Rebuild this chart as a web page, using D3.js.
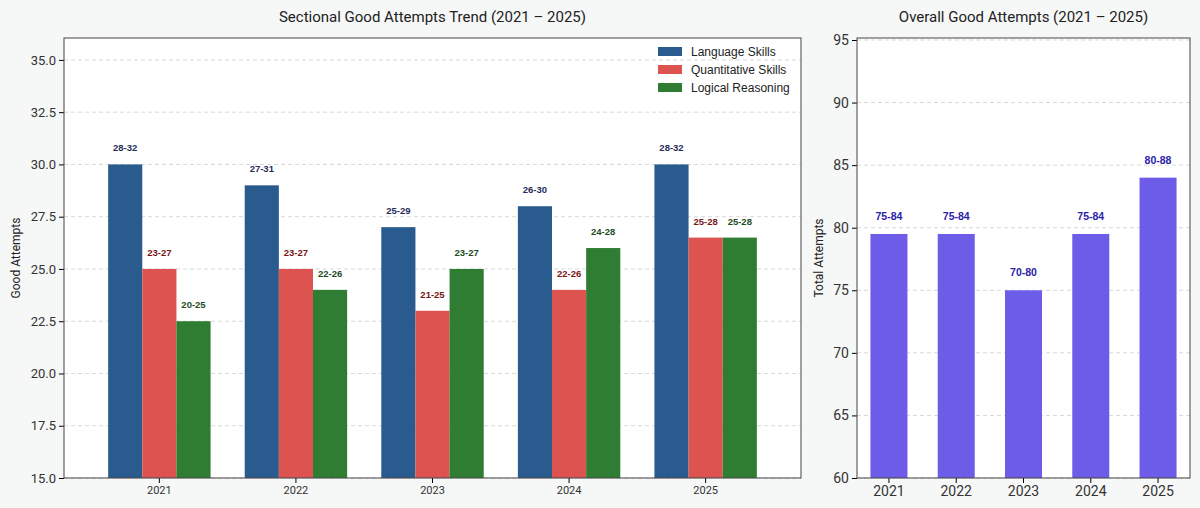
<!DOCTYPE html>
<html><head><meta charset="utf-8">
<script src="https://cdn.jsdelivr.net/npm/d3@7"></script>
<style>body{margin:0;background:#f6f7f7;font-family:Roboto,sans-serif}</style>
</head><body><svg id="c" width="1200" height="508"></svg>
<script>
const years = ["2021", "2022", "2023", "2024", "2025"];
const series = ["Language Skills", "Quantitative Skills", "Logical Reasoning"];
const colors = ["#2a5b8e", "#dc5350", "#2e7d32"];
const labelColors = ["#1f2d5a", "#7a1616", "#1d4d1d"];
const langVals = [30, 29, 27, 28, 30];
const quantVals = [25, 25, 23, 24, 26.5];
const logicVals = [22.5, 24, 25, 26, 26.5];
const langLabels = ["28-32", "27-31", "25-29", "26-30", "28-32"];
const quantLabels = ["23-27", "23-27", "21-25", "22-26", "25-28"];
const logicLabels = ["20-25", "22-26", "23-27", "24-28", "25-28"];
const leftTicks = [15, 17.5, 20, 22.5, 25, 27.5, 30, 32.5, 35];
const totalVals = [79.5, 79.5, 75, 79.5, 84];
const totalLabels = ["75-84", "75-84", "70-80", "75-84", "80-88"];
const rightTicks = [60, 65, 70, 75, 80, 85, 90, 95];

const svg = d3.select("#c");

// left panel
const L = {x0: 64, x1: 801, y0: 38, y1: 478};
svg.append("rect").attr("x", L.x0).attr("y", L.y0).attr("width", L.x1 - L.x0).attr("height", L.y1 - L.y0).attr("fill", "#fff");
const yL = d3.scaleLinear().domain([15, 36]).range([L.y1, L.y0 + 1]);
const xL = d3.scaleBand().domain(years).range([L.x0 + 10, L.x1 - 10]).paddingInner(0.25).paddingOuter(0.25);
const xs = d3.scaleBand().domain(series).range([0, xL.bandwidth()]);

svg.append("g").selectAll("line").data(leftTicks).join("line")
    .attr("x1", L.x0).attr("x2", L.x1).attr("y1", d => yL(d)).attr("y2", d => yL(d))
    .attr("stroke", "#d8d8d8").attr("stroke-dasharray", "4,3");

const sets = [[langVals, langLabels], [quantVals, quantLabels], [logicVals, logicLabels]];
sets.forEach(([vals, labs], si) => {
    const g = svg.append("g");
    g.selectAll("rect").data(years).join("rect")
        .attr("x", d => xL(d) + xs(series[si]))
        .attr("y", (d, i) => yL(vals[i]))
        .attr("width", xs.bandwidth())
        .attr("height", (d, i) => yL(15) - yL(vals[i]))
        .attr("fill", colors[si]);
    g.selectAll("text").data(years).join("text")
        .attr("x", d => xL(d) + xs(series[si]) + xs.bandwidth() / 2)
        .attr("y", (d, i) => yL(vals[i]) - 13)
        .attr("text-anchor", "middle")
        .attr("font-family", "Liberation Sans, Arial, sans-serif")
        .attr("font-weight", "bold").attr("font-size", 9.5)
        .attr("fill", labelColors[si])
        .text((d, i) => labs[i]);
});

svg.append("g").attr("transform", `translate(${L.x0},0)`)
    .call(d3.axisLeft(yL).tickValues(leftTicks).tickFormat(d3.format(".1f")).tickSize(5))
    .call(g => g.select(".domain").remove())
    .call(g => g.selectAll("text").attr("font-size", 13).attr("fill", "#333").attr("font-family", "Roboto, sans-serif"));
svg.append("g").attr("transform", `translate(0,${L.y1})`)
    .call(d3.axisBottom(xL).tickSize(5))
    .call(g => g.select(".domain").remove())
    .call(g => g.selectAll("text").attr("font-size", 11).attr("fill", "#333").attr("font-family", "Roboto, sans-serif"));
svg.append("rect").attr("x", L.x0).attr("y", L.y0).attr("width", L.x1 - L.x0).attr("height", L.y1 - L.y0)
    .attr("fill", "none").attr("stroke", "#444").attr("stroke-width", 1);
svg.append("text").attr("x", (L.x0 + L.x1) / 2).attr("y", 22).attr("text-anchor", "middle")
    .attr("font-size", 15).attr("fill", "#222").text("Sectional Good Attempts Trend (2021 – 2025)");
svg.append("text").attr("transform", `translate(20,${(L.y0 + L.y1) / 2}) rotate(-90)`)
    .attr("text-anchor", "middle").attr("font-size", 12).attr("fill", "#222").text("Good Attempts");

const leg = svg.append("g").attr("transform", "translate(658,47)");
const li = leg.selectAll("g").data(series).join("g").attr("transform", (d, i) => `translate(0,${i * 18})`);
li.append("rect").attr("width", 24).attr("height", 9).attr("fill", (d, i) => colors[i]);
li.append("text").attr("x", 33).attr("y", 9).attr("font-size", 12).attr("fill", "#222")
    .attr("font-family", "Liberation Sans, Arial, sans-serif").text(d => d);

// right panel
const R = {x0: 857, x1: 1190, y0: 38, y1: 478};
svg.append("rect").attr("x", R.x0).attr("y", R.y0).attr("width", R.x1 - R.x0).attr("height", R.y1 - R.y0).attr("fill", "#fff");
const yR = d3.scaleLinear().domain([60, 95]).range([R.y1, R.y0 + 2]);
const xR = d3.scaleBand().domain(years).range([R.x0, R.x1]).paddingInner(0.45).paddingOuter(0.2);
svg.append("g").selectAll("line").data(rightTicks).join("line")
    .attr("x1", R.x0).attr("x2", R.x1).attr("y1", d => yR(d)).attr("y2", d => yR(d))
    .attr("stroke", "#d8d8d8").attr("stroke-dasharray", "4,3");
svg.append("g").selectAll("rect").data(years).join("rect")
    .attr("x", d => xR(d)).attr("y", (d, i) => yR(totalVals[i]))
    .attr("width", xR.bandwidth()).attr("height", (d, i) => yR(60) - yR(totalVals[i]))
    .attr("fill", "#6c5ce7");
svg.append("g").selectAll("text").data(years).join("text")
    .attr("x", d => xR(d) + xR.bandwidth() / 2).attr("y", (d, i) => yR(totalVals[i]) - 14)
    .attr("text-anchor", "middle").attr("font-family", "Liberation Sans, Arial, sans-serif")
    .attr("font-weight", "bold").attr("font-size", 10.5).attr("fill", "#2a22a8")
    .text((d, i) => totalLabels[i]);
svg.append("g").attr("transform", `translate(${R.x0},0)`)
    .call(d3.axisLeft(yR).tickValues(rightTicks).tickSize(5))
    .call(g => g.select(".domain").remove())
    .call(g => g.selectAll("text").attr("font-size", 14).attr("fill", "#333").attr("font-family", "Roboto, sans-serif"));
svg.append("g").attr("transform", `translate(0,${R.y1})`)
    .call(d3.axisBottom(xR).tickSize(5))
    .call(g => g.select(".domain").remove())
    .call(g => g.selectAll("text").attr("font-size", 14).attr("fill", "#333").attr("font-family", "Roboto, sans-serif"));
svg.append("rect").attr("x", R.x0).attr("y", R.y0).attr("width", R.x1 - R.x0).attr("height", R.y1 - R.y0)
    .attr("fill", "none").attr("stroke", "#444").attr("stroke-width", 1);
svg.append("text").attr("x", (R.x0 + R.x1) / 2).attr("y", 22).attr("text-anchor", "middle")
    .attr("font-size", 15).attr("fill", "#222").text("Overall Good Attempts (2021 – 2025)");
svg.append("text").attr("transform", `translate(823,${(R.y0 + R.y1) / 2}) rotate(-90)`)
    .attr("text-anchor", "middle").attr("font-size", 12).attr("fill", "#222").text("Total Attempts");
</script></body></html>
